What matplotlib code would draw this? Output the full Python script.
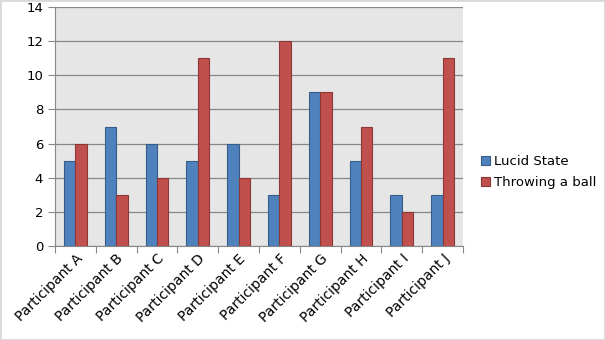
import matplotlib.pyplot as plt
import numpy as np
from matplotlib.patches import Rectangle

participants = ['Participant A', 'Participant B', 'Participant C', 'Participant D', 'Participant E',
                'Participant F', 'Participant G', 'Participant H', 'Participant I', 'Participant J']
lucid = [5, 7, 6, 5, 6, 3, 9, 5, 3, 3]
ball = [6, 3, 4, 11, 4, 12, 9, 7, 2, 11]

fig = plt.figure(figsize=(6.05, 3.4), dpi=100)
ax = fig.add_axes([55/605, 1 - 246/340, (463-55)/605, (246-7)/340])
ax.set_facecolor('#e6e6e6')

x = np.arange(len(participants))
width = 0.28
ax.bar(x - width/2, lucid, width, color='#4f81bd', edgecolor='#385d8a', linewidth=0.8,
       label='Lucid State', zorder=3)
ax.bar(x + width/2, ball, width, color='#c0504d', edgecolor='#8c3836', linewidth=0.8,
       label='Throwing a ball', zorder=3)

ax.set_xlim(-0.5, len(participants) - 0.5)
ax.set_ylim(0, 14)
ax.set_yticks(range(0, 15, 2))
ax.yaxis.grid(True, color='#878787', linewidth=0.9, zorder=1)
ax.set_axisbelow(True)

ax.set_xticks(np.arange(-0.5, len(participants)), labels=[''] * (len(participants) + 1))
ax.set_xticks(x, labels=participants, minor=True)
ax.tick_params(axis='x', which='minor', length=0, pad=4)
ax.tick_params(axis='x', which='major', length=5, color='#878787')
ax.tick_params(axis='y', length=5, color='#878787')
ax.tick_params(labelsize=9.5)
for lbl in ax.get_xticklabels(minor=True):
    lbl.set_rotation(45)
    lbl.set_ha('right')
    lbl.set_rotation_mode('anchor')

for side in ['top', 'right']:
    ax.spines[side].set_visible(False)
for side in ['left', 'bottom']:
    ax.spines[side].set_color('#878787')

ax.legend(loc='center left', bbox_to_anchor=(1.015, 0.31), frameon=False, fontsize=9.5,
          handlelength=0.7, handleheight=0.7, handletextpad=0.3, labelspacing=0.6)

fig.patches.append(Rectangle((0, 0), 1, 1, transform=fig.transFigure, fill=False,
                             edgecolor='#d9d9d9', linewidth=2))

fig.savefig('out.png', dpi=100)
